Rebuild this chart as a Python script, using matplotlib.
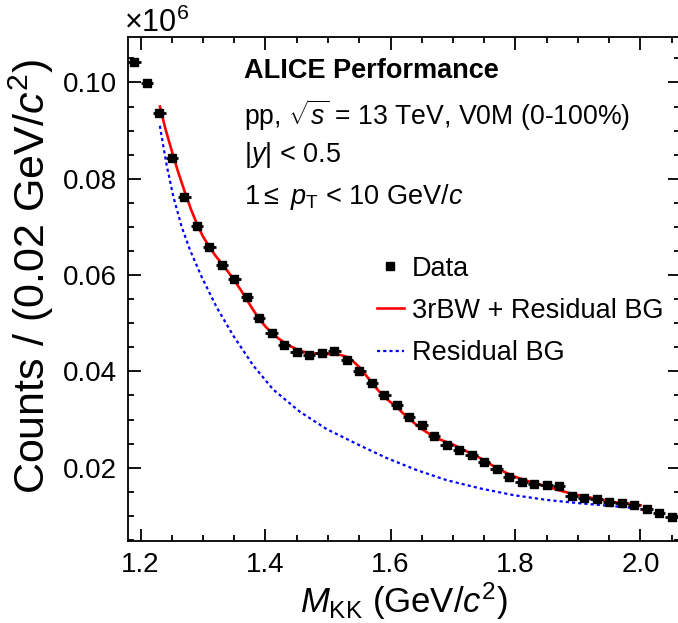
import matplotlib
matplotlib.use("Agg")
import matplotlib.pyplot as plt
from matplotlib.lines import Line2D
import numpy as np

plt.rcParams['font.family'] = ['Liberation Sans', 'DejaVu Sans']
plt.rcParams['mathtext.fontset'] = 'custom'
plt.rcParams['mathtext.rm'] = 'Liberation Sans'
plt.rcParams['mathtext.it'] = 'Liberation Sans:italic'
plt.rcParams['mathtext.bf'] = 'Liberation Sans:bold'

# invariant mass bins (GeV/c^2), bin width 0.02
mass = [1.19, 1.21, 1.23, 1.25, 1.27, 1.29, 1.31, 1.33, 1.35, 1.37,
        1.39, 1.41, 1.43, 1.45, 1.47, 1.49, 1.51, 1.53, 1.55, 1.57,
        1.59, 1.61, 1.63, 1.65, 1.67, 1.69, 1.71, 1.73, 1.75, 1.77,
        1.79, 1.81, 1.83, 1.85, 1.87, 1.89, 1.91, 1.93, 1.95, 1.97,
        1.99, 2.01, 2.03, 2.05]
counts = [0.1043, 0.0999, 0.0936, 0.0843, 0.0763, 0.0702, 0.0659, 0.0621, 0.0591, 0.0554,
          0.0510, 0.0480, 0.0455, 0.0440, 0.0434, 0.0438, 0.0443, 0.0424, 0.0401, 0.0375,
          0.0350, 0.0330, 0.0306, 0.0289, 0.0266, 0.0247, 0.0237, 0.0226, 0.0212, 0.0197,
          0.0181, 0.0171, 0.0166, 0.0164, 0.0161, 0.0142, 0.0138, 0.0134, 0.0129, 0.0126,
          0.0123, 0.0114, 0.0105, 0.0098]

# 3rBW + residual BG fit
fit_x = [1.231, 1.240, 1.250, 1.260, 1.270, 1.280, 1.290, 1.300, 1.310, 1.320,
         1.330, 1.340, 1.350, 1.360, 1.370, 1.380, 1.390, 1.400, 1.410, 1.420,
         1.430, 1.440, 1.450, 1.460, 1.470, 1.480, 1.490, 1.500, 1.510, 1.520,
         1.530, 1.540, 1.550, 1.560, 1.570, 1.580, 1.590, 1.600, 1.610, 1.620,
         1.635, 1.650, 1.665, 1.680, 1.700, 1.720, 1.745, 1.770, 1.795, 1.820,
         1.850, 1.875, 1.900, 1.930, 1.955, 1.980, 2.000]
fit_y = [0.0950, 0.0903, 0.0858, 0.0815, 0.0776, 0.0739, 0.0707, 0.0680, 0.0659, 0.0640,
         0.0624, 0.0607, 0.0589, 0.0570, 0.0549, 0.0528, 0.0509, 0.0493, 0.0480, 0.0469,
         0.0460, 0.0452, 0.0446, 0.0441, 0.0438, 0.0437, 0.0436, 0.0436, 0.0435, 0.0434,
         0.0430, 0.0421, 0.0409, 0.0393, 0.0377, 0.0361, 0.0347, 0.0336, 0.0326, 0.0313,
         0.0296, 0.0280, 0.0268, 0.0258, 0.0248, 0.0235, 0.0219, 0.0199, 0.0183, 0.0172,
         0.0161, 0.0151, 0.0143, 0.0135, 0.0129, 0.0125, 0.0122]

# residual background
bg_x = [1.231, 1.2355, 1.2419, 1.2525, 1.2659, 1.2792, 1.2979, 1.3219, 1.3485, 1.3805,
        1.4125, 1.4552, 1.4979, 1.5512, 1.5939, 1.6419, 1.6899, 1.7432, 1.7965, 1.8499,
        1.9032, 1.9565, 2.000]
bg_y = [0.0910, 0.0875, 0.0828, 0.0763, 0.0700, 0.0652, 0.0596, 0.0533, 0.0474, 0.0412,
        0.0362, 0.0316, 0.0280, 0.0246, 0.0220, 0.0195, 0.0174, 0.0157, 0.0143, 0.0133,
        0.0126, 0.0120, 0.0115]

fig = plt.figure(figsize=(6.78, 6.23), dpi=100)
ax = fig.add_axes([128 / 678, 82 / 623, 552 / 678, 504.3 / 623])

ax.errorbar(mass, counts, xerr=0.01, fmt='s', color='black', ms=6,
            elinewidth=2, capsize=0, zorder=3)
ax.plot(fit_x, fit_y, color='#ff0000', lw=1.9, zorder=2)
ax.plot(bg_x, bg_y, color='#0000ff', lw=1.6, linestyle=(0, (1.4, 1.4)), zorder=2)

ax.set_xlim(1.18, 2.0632)
ax.set_ylim(0.00477, 0.1095)
ax.set_xticks([1.2, 1.4, 1.6, 1.8, 2.0])
ax.set_xticklabels(['1.2', '1.4', '1.6', '1.8', '2.0'])
ax.set_xticks(np.arange(1.20, 2.07, 0.05), minor=True)
ax.set_yticks([0.02, 0.04, 0.06, 0.08, 0.10])
ax.set_yticklabels(['0.02', '0.04', '0.06', '0.08', '0.10'])
ax.set_yticks(np.arange(0.005, 0.1096, 0.005), minor=True)
ax.tick_params(which='both', direction='in', top=True, right=True,
               labelsize=20, width=1.3, pad=8)
ax.tick_params(which='major', length=9)
ax.tick_params(which='minor', length=4.5)
for s in ax.spines.values():
    s.set_linewidth(1.3)

ax.set_xlabel(r'$M_{\rm KK}$ (GeV/$c^{2}$)', fontsize=25, labelpad=2)
ax.set_ylabel(r'Counts / (0.02 GeV/$c^{2}$)', fontsize=31)
ax.yaxis.set_label_coords(-0.13, 0.525)

fig.text(124 / 678, 1 - 32 / 623, r'$\times$10$^{6}$', fontsize=22, ha='left', va='baseline')

fig.text(244 / 678, 1 - 71 / 623, 'ALICE Performance', fontsize=19.5,
         fontweight='bold', ha='left', va='center')
fig.text(244 / 678, 1 - 115 / 623, r'pp, $\sqrt{s}$ = 13 TeV, V0M (0-100%)',
         fontsize=19.2, ha='left', va='center')
fig.text(244 / 678, 1 - 155 / 623, r'|$y$| < 0.5', fontsize=19.5, ha='left', va='center')
fig.text(244 / 678, 1 - 197 / 623, r'1$\leq$ $p_{\rm T}$ < 10 GeV/$c$',
         fontsize=19.5, ha='left', va='center')

handles = [Line2D([], [], color='black', marker='s', ms=6, linestyle='none'),
           Line2D([], [], color='#ff0000', lw=1.9),
           Line2D([], [], color='#0000ff', lw=1.6, linestyle=(0, (1.4, 1.4)))]
labels = ['Data', '3rBW + Residual BG', 'Residual BG']
ax.legend(handles, labels, loc='upper left', bbox_to_anchor=(363 / 678, 1 - 242 / 623),
          bbox_transform=fig.transFigure, frameon=False, fontsize=19.5,
          handlelength=1.0, handletextpad=0.3, labelspacing=0.6, borderpad=0)

fig.savefig('out.png', dpi=100)
